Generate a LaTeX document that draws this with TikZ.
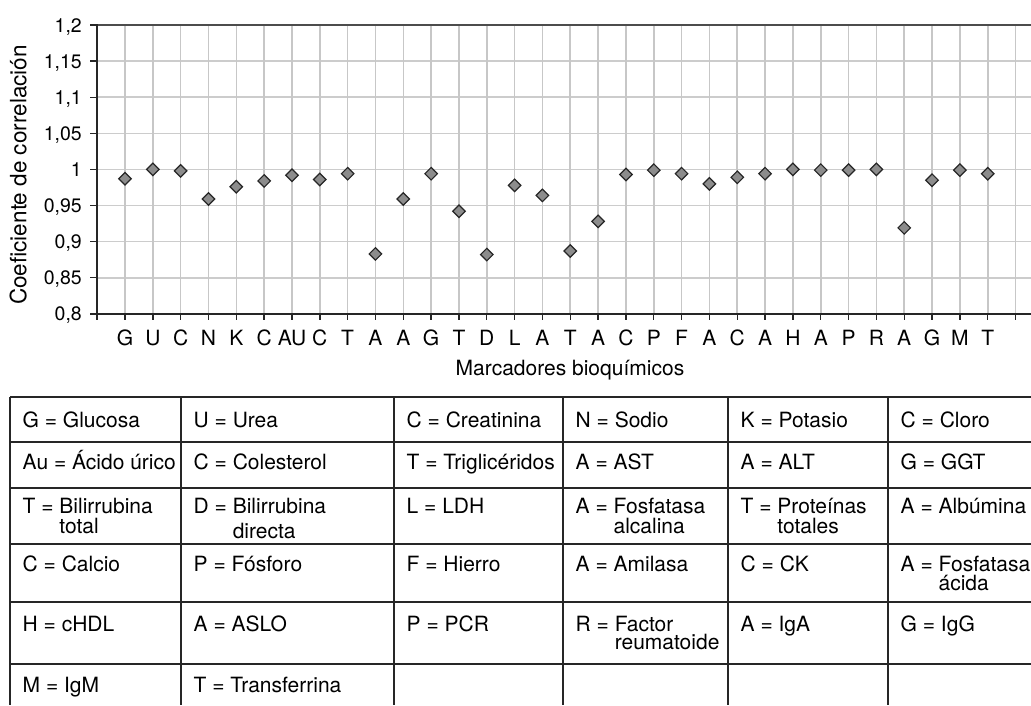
\documentclass[tikz,border=0pt]{standalone}
\usepackage{fontspec}
\setmainfont{TeX Gyre Heros}
\usetikzlibrary{positioning,shapes.geometric}
\newcommand\celdos[3][0pt]{\vtop{\hbox{#2}\vskip#1\hbox{#3}}}

\begin{document}
\begin{tikzpicture}[x=1pt, y=-1pt,
	punto/.style={diamond, draw=black!85, fill=black!45, line width=1.2pt, inner sep=0pt, minimum size=13pt},
	rejilla/.style={black!20, line width=1.6pt},
	eje/.style={black!85, line width=1.4pt},
	marca/.style={font=\fontsize{21}{21}\selectfont, anchor=base, inner sep=0pt},
	escala/.style={font=\fontsize{19.5}{19.5}\selectfont, anchor=base east, inner sep=0pt},
	celda/.style={font=\fontsize{21}{19.5}\selectfont, anchor=base west, inner sep=0pt}]
	\useasboundingbox (0,0) rectangle (1031,705);
	% rejilla del grafico
	\foreach \j in {1,...,7}
		\draw[rejilla] (97,{25+36.1*\j}) -- (1031,{25+36.1*\j});
	\foreach \k in {0,...,32}
		\draw[rejilla, black!22] ({125+27.83*\k},25) -- ({125+27.83*\k},314);
	\draw[black!70, line width=2pt] (97,25) -- (1031,25);
	\draw[eje] (97,24) -- (97,320);
	\draw[eje] (97,314) -- (1031,314);
	\foreach \j in {0,...,8}
		\draw[eje] (90,{25+36.1*\j}) -- (97,{25+36.1*\j});
	\foreach \k in {0,...,32}
		\draw[eje] ({125+27.83*\k},314) -- ({125+27.83*\k},320);
	\foreach \v [count=\j from 0] in {{1,2},{1,15},{1,1},{1,05},1,{0,95},{0,9},{0,85},{0,8}}
		\node[escala] (e\j) at (82,{32+36.1*\j}) {\v};
	% puntos
	\foreach \v [count=\k from 0] in {0.987,1.0,0.998,0.959,0.976,0.984,0.992,0.986,0.994,0.883,0.959,0.994,0.942,0.882,0.978,0.964,0.887,0.928,0.993,0.999,0.994,0.980,0.989,0.994,1.0,0.999,0.999,1.0,0.919,0.985,0.999,0.994}
		\node[punto] (p\k) at ({125+27.83*\k},{25+(1.2-\v)*722}) {};
	\foreach \m [count=\k from 0] in {G,U,C,N,K,C,AU,C,T,A,A,G,T,D,L,A,T,A,C,P,F,A,C,A,H,A,P,R,A,G,M,T}
		\node[marca] (m\k) at ({125+27.83*\k},345.5) {\m};
	\node[marca] (xtit) at (570,375) {Marcadores bioquímicos};
	\node[marca, rotate=90, font=\fontsize{22.5}{22.5}\selectfont] (ytit) at (26.5,175) {Coeficiente de correlación};
	% tabla
	\foreach \f in {397,442,488,544,602,664}
		\draw[eje] (10,\f) -- (1031,\f);
	\foreach \c in {10,181,394,563,728,888}
		\draw[eje] (\c,397) -- (\c,705);
	\foreach \fila/\yb [count=\r] in {
		{G = Glucosa, U = Urea, C = Creatinina, N = Sodio, K = Potasio, C = Cloro}/427,
		{Au = Ácido úrico, C = Colesterol, T = Triglicéridos, A = AST, A = ALT, G = GGT}/469.5,
		{\celdos{T = Bilirrubina}{\hphantom{T = }total}, \celdos[5pt]{D = Bilirrubina}{\hphantom{D = }directa}, L = LDH, \celdos{A = Fosfatasa}{\hphantom{A = }alcalina}, \celdos{T = Proteínas}{\hphantom{T = }totales}, A = Albúmina}/513.5,
		{C = Calcio, P = Fósforo, F = Hierro, A = Amilasa, C = CK, \celdos{A = Fosfatasa}{\hphantom{A = }ácida}}/571,
		{H = cHDL, A = ASLO, P = PCR, \celdos[-1pt]{R = Factor}{\hphantom{R = }reumatoide}, A = IgA, G = IgG}/631,
		{M = IgM, T = Transferrina}/692}
		\foreach \txt [count=\c] in \fila {
			\pgfmathsetmacro\xc{{10,181,394,563,728,888}[\c-1]+12.5}
			\node[celda] (c\r\c) at (\xc,\yb) {\txt};
		}
\end{tikzpicture}
\end{document}
